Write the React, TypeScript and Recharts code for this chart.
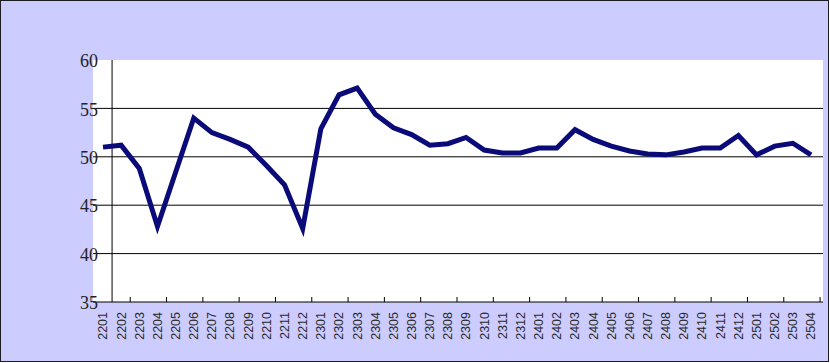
import React from "react";
import { LineChart, Line, XAxis, YAxis, CartesianGrid, ReferenceLine } from "recharts";

const months = [
  "2201", "2202", "2203", "2204", "2205", "2206", "2207", "2208", "2209", "2210",
  "2211", "2212", "2301", "2302", "2303", "2304", "2305", "2306", "2307", "2308",
  "2309", "2310", "2311", "2312", "2401", "2402", "2403", "2404", "2405", "2406",
  "2407", "2408", "2409", "2410", "2411", "2412", "2501", "2502", "2503", "2504"
];

const values = [
  51.0, 51.2, 48.8, 42.8, 48.4, 54.0, 52.5, 51.8, 51.0, 49.1,
  47.1, 42.6, 52.9, 56.4, 57.1, 54.4, 53.0, 52.3, 51.2, 51.35,
  52.0, 50.7, 50.4, 50.4, 50.9, 50.9, 52.8, 51.8, 51.1, 50.6,
  50.3, 50.2, 50.5, 50.9, 50.9, 52.2, 50.2, 51.1, 51.4, 50.2
];

const yTicks = [35, 40, 45, 50, 55, 60];
const gridValues = [40, 45, 50, 55];

const data = months.map((m, i) => ({ idx: i, month: m, value: values[i] }));

// labels on every month, tick marks between every second pair of months
const labelTicks = months.map((_, i) => i);
const markTicks = months.map((_, i) => i + 0.5).filter((_, i) => i % 2 === 1);
const xTicks = [...labelTicks, ...markTicks].sort((a, b) => a - b);

const XTick = (props: any) => {
  const { x, y, payload } = props;
  const v = payload.value as number;
  if (v % 1 !== 0) {
    return <line x1={x} x2={x} y1={y - 5} y2={y} stroke="#000" strokeWidth={1} />;
  }
  return (
    <text
      x={x}
      y={y + 10}
      transform={`rotate(-90, ${x}, ${y + 10})`}
      textAnchor="end"
      dy="0.35em"
      fontSize={12.5}
      fontFamily="'Liberation Sans', Arial, sans-serif"
      fill="#2a2a2a"
    >
      {months[v]}
    </text>
  );
};

const YTick = (props: any) => {
  const { x, y, payload } = props;
  return (
    <text
      x={x + 5}
      y={y}
      dy="0.4em"
      textAnchor="end"
      fontSize={18}
      fontFamily="'Liberation Serif', 'Times New Roman', serif"
      fill="#222"
    >
      {payload.value}
    </text>
  );
};

export default function App() {
  return (
    <div
      style={{
        position: "absolute",
        left: 0,
        top: 0,
        width: 829,
        height: 362,
        boxSizing: "border-box",
        border: "1px solid #1c1c24",
        background: "#ccccff"
      }}
    >
      <div style={{ position: "absolute", left: -1, top: -1 }}>
        <LineChart
          width={830}
          height={363}
          data={data}
          margin={{ top: 60, right: 7, left: 0, bottom: 0 }}
        >
          <CartesianGrid fill="#ffffff" horizontal={false} vertical={false} />
          {gridValues.map((g) => (
            <ReferenceLine key={g} y={g} stroke="#000" strokeWidth={1} />
          ))}
          <ReferenceLine x={0.5} stroke="#000" strokeWidth={1} />
          <XAxis
            dataKey="idx"
            type="number"
            domain={[0, 39]}
            ticks={xTicks}
            interval={0}
            padding={{ left: 10, right: 12 }}
            height={61}
            tickLine={false}
            tickSize={0}
            tickMargin={0}
            axisLine={{ stroke: "#000" }}
            tick={<XTick />}
          />
          <YAxis
            domain={[35, 60]}
            ticks={yTicks}
            interval={0}
            width={93}
            tickLine={false}
            tickSize={0}
            tickMargin={0}
            axisLine={false}
            tick={<YTick />}
          />
          <Line
            type="linear"
            dataKey="value"
            stroke="#0a0a78"
            strokeWidth={5}
            dot={false}
            isAnimationActive={false}
          />
        </LineChart>
      </div>
    </div>
  );
}
